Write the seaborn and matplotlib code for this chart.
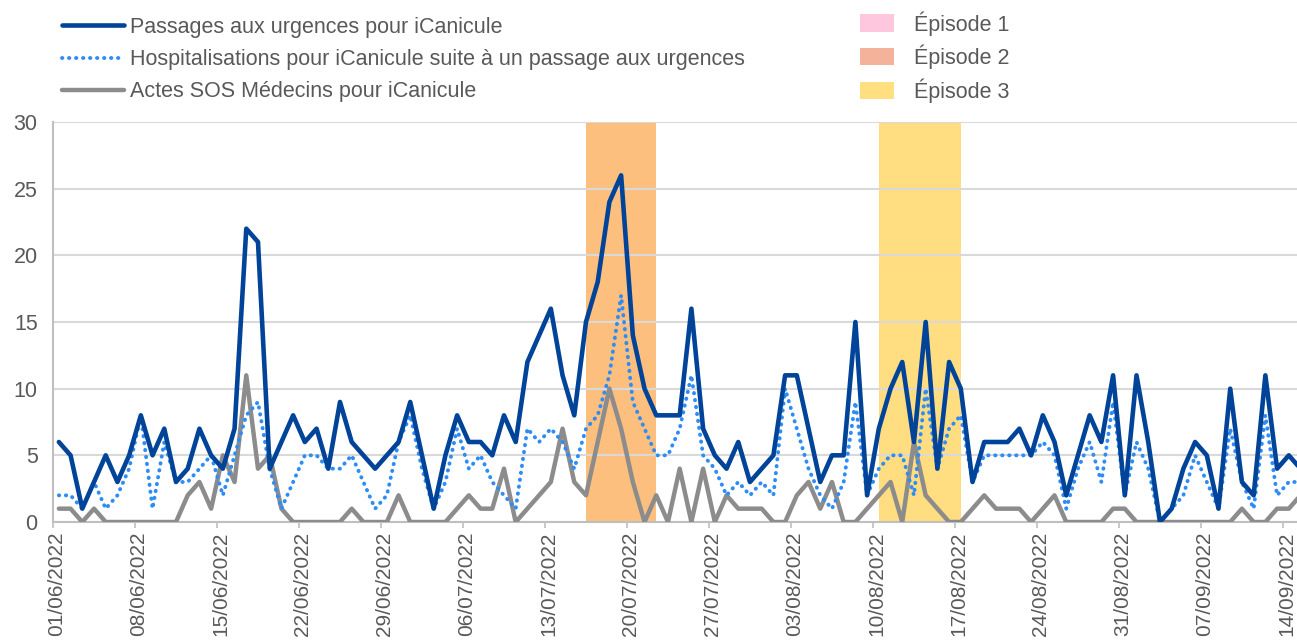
import matplotlib
matplotlib.use("Agg")
import matplotlib.pyplot as plt
import matplotlib.transforms as mtransforms
from matplotlib.lines import Line2D
from matplotlib.patches import Patch
import seaborn as sns
import pandas as pd

# daily series, 01/06/2022 onwards
dates = pd.date_range("2022-06-01", periods=107, freq="D")

passages = [6, 5, 1, 3, 5, 3, 5, 8, 5, 7, 3, 4, 7, 5, 4, 7, 22, 21, 4, 6,
            8, 6, 7, 4, 9, 6, 5, 4, 5, 6, 9, 5, 1, 5, 8, 6, 6, 5, 8, 6,
            12, 14, 16, 11, 8, 15, 18, 24, 26, 14, 10, 8, 8, 8, 16, 7, 5, 4, 6, 3,
            4, 5, 11, 11, 7, 3, 5, 5, 15, 2, 7, 10, 12, 6, 15, 4, 12, 10, 3, 6,
            6, 6, 7, 5, 8, 6, 2, 5, 8, 6, 11, 2, 11, 6, 0, 1, 4, 6, 5, 1,
            10, 3, 2, 11, 4, 5, 4]

hospitalisations = [2, 2, 1, 3, 1, 2, 4, 8, 1, 6, 3, 3, 4, 5, 2, 5, 8, 9, 4, 1,
                    3, 5, 5, 4, 4, 5, 3, 1, 2, 6, 8, 4, 1, 3, 7, 4, 5, 3, 2, 1,
                    7, 6, 7, 6, 4, 7, 8, 11, 17, 9, 7, 5, 5, 7, 11, 5, 4, 2, 3, 2,
                    3, 2, 10, 7, 4, 2, 1, 3, 9, 2, 4, 5, 5, 2, 10, 4, 7, 8, 3, 5,
                    5, 5, 5, 5, 6, 5, 1, 4, 6, 3, 9, 2, 6, 4, 0, 1, 2, 5, 3, 1,
                    7, 3, 1, 8, 2, 3, 3]

sos_medecins = [1, 1, 0, 1, 0, 0, 0, 0, 0, 0, 0, 2, 3, 1, 5, 3, 11, 4, 5, 1,
                0, 0, 0, 0, 0, 1, 0, 0, 0, 2, 0, 0, 0, 0, 1, 2, 1, 1, 4, 0,
                1, 2, 3, 7, 3, 2, 6, 10, 7, 3, 0, 2, 0, 4, 0, 4, 0, 2, 1, 1,
                1, 0, 0, 2, 3, 1, 3, 0, 0, 1, 2, 3, 0, 6, 2, 1, 0, 0, 1, 2,
                1, 1, 1, 0, 1, 2, 0, 0, 0, 0, 1, 1, 0, 0, 0, 0, 0, 0, 0, 0,
                0, 1, 0, 0, 1, 1, 2]

# heat-wave episodes (first day index, last day index)
episodes = {"Épisode 1": None, "Épisode 2": (45, 51), "Épisode 3": (70, 77)}
episode_fill = {"Épisode 2": "#FDBF7E", "Épisode 3": "#FFDD80"}
episode_legend = {"Épisode 1": "#FFC7DD", "Épisode 2": "#F5B29A", "Épisode 3": "#FFDF80"}

label_pass = "Passages aux urgences pour iCanicule"
label_hosp = "Hospitalisations pour iCanicule suite à un passage aux urgences"
label_sos = "Actes SOS Médecins pour iCanicule"

df = pd.DataFrame({"jour": range(len(dates)), "pass": passages,
                   "hosp": hospitalisations, "sos": sos_medecins})

sns.set_theme(style="white")
plt.rcParams["font.family"] = ["Liberation Sans", "DejaVu Sans"]
fs = 15.5
grey_txt = "#595959"

fig = plt.figure(figsize=(12.97, 6.41), dpi=100)
ax = fig.add_axes([53 / 1297, 119 / 641, 1244 / 1297, 400 / 641])

for name, span in episodes.items():
    if span is not None:
        ax.axvspan(span[0], span[1], color=episode_fill[name], lw=0, zorder=0.2)

c_pass = "#00449A"
c_hosp = "#2E8CF5"
c_sos = "#8C8C8C"
dots = (0, (0.1, 1.7))

sns.lineplot(data=df, x="jour", y="sos", ax=ax, color=c_sos, lw=3.2, zorder=3)
sns.lineplot(data=df, x="jour", y="hosp", ax=ax, color=c_hosp, lw=2.8, zorder=4)
ax.lines[-1].set_linestyle(dots)
ax.lines[-1].set_dash_capstyle("round")
sns.lineplot(data=df, x="jour", y="pass", ax=ax, color=c_pass, lw=3.3, zorder=5)

ax.set_xlim(-0.5, 105.7)
ax.set_ylim(0, 30)
ax.set_yticks(range(0, 31, 5))
ax.yaxis.grid(True, color="#D9D9D9", lw=1.5)
ax.set_axisbelow(True)
ax.set_xlabel("")
ax.set_ylabel("")

tick_pos = [k - 0.5 for k in range(0, len(dates), 7)]
tick_lab = [dates[k].strftime("%d/%m/%Y") for k in range(0, len(dates), 7)]
ax.set_xticks(tick_pos)
ax.set_xticklabels(tick_lab, rotation=90, fontsize=15, color=grey_txt)
ax.tick_params(axis="x", length=4, width=1.2, color="#BFBFBF", pad=3, bottom=True)
ax.tick_params(axis="y", length=0, pad=11, labelsize=fs, labelcolor=grey_txt)

# date labels sit a little right of their tick, as in the original
shift = mtransforms.ScaledTranslation(4 / 100, 0, fig.dpi_scale_trans)
for lab in ax.get_xticklabels():
    lab.set_transform(lab.get_transform() + shift)

for side in ["top", "right"]:
    ax.spines[side].set_visible(False)
for side in ["left", "bottom"]:
    ax.spines[side].set_color("#BFBFBF")
    ax.spines[side].set_linewidth(1.5)

line_handles = [
    Line2D([], [], color=c_pass, lw=3.3, solid_capstyle="round"),
    Line2D([], [], color=c_hosp, lw=2.8, linestyle=dots, dash_capstyle="round"),
    Line2D([], [], color=c_sos, lw=3.2, solid_capstyle="round"),
]
fig.legend(line_handles, [label_pass, label_hosp, label_sos],
           loc="upper left", bbox_to_anchor=(62 / 1297, 1 - 17 / 641),
           frameon=False, fontsize=fs, handlelength=2.9, handletextpad=0.25,
           labelspacing=0.52, borderpad=0, borderaxespad=0, labelcolor=grey_txt)

patch_handles = [Patch(facecolor=episode_legend[n], edgecolor="none") for n in episodes]
fig.legend(patch_handles, list(episodes), loc="upper left",
           bbox_to_anchor=(860 / 1297, 1 - 11 / 641), frameon=False, fontsize=fs,
           handlelength=1.6, handleheight=0.85, handletextpad=0.9,
           labelspacing=0.42, borderpad=0, borderaxespad=0, labelcolor=grey_txt)

fig.savefig("out.png", dpi=100)
